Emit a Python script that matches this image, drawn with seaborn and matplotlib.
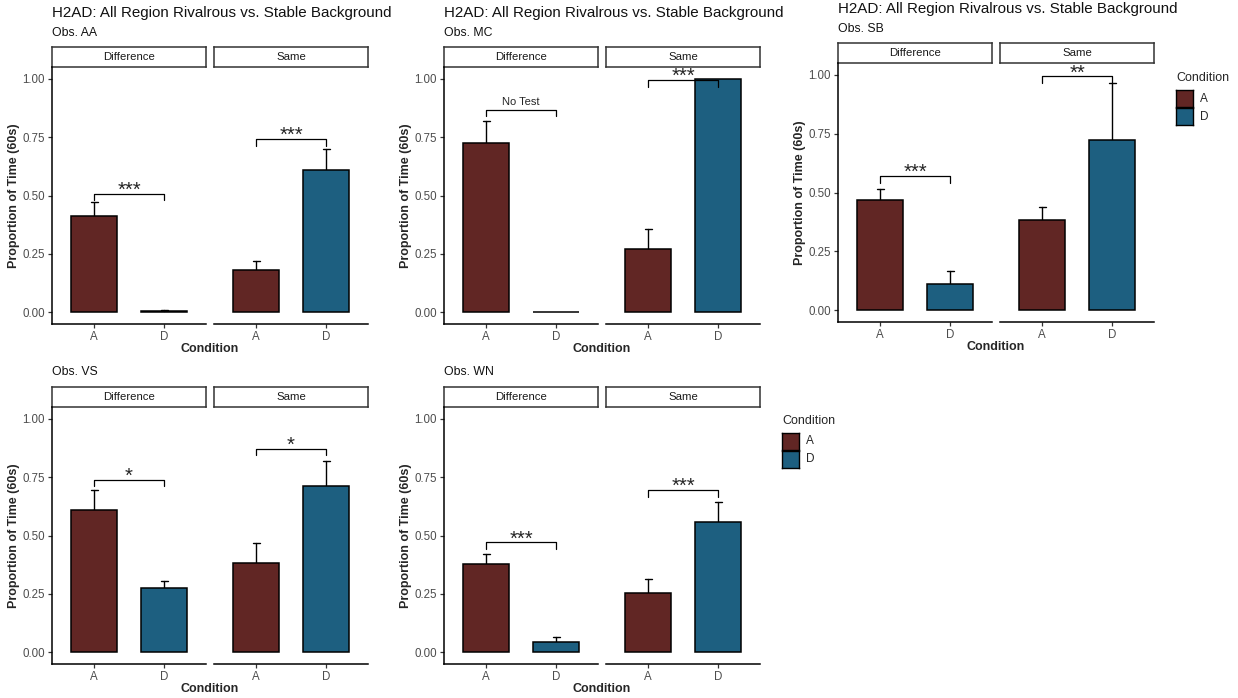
import numpy as np
import pandas as pd
import matplotlib
matplotlib.use("Agg")
import matplotlib.pyplot as plt
import seaborn as sns

# --- data ---
observers = ["AA", "MC", "SB", "VS", "WN"]
groups = ["Difference", "Same"]
conditions = ["A", "D"]

mean_diff_A = [0.412, 0.726, 0.467, 0.610, 0.380]
mean_diff_D = [0.005, 0.000, 0.112, 0.277, 0.046]
mean_same_A = [0.183, 0.270, 0.385, 0.383, 0.254]
mean_same_D = [0.609, 1.000, 0.722, 0.711, 0.557]

se_diff_A = [0.060, 0.091, 0.046, 0.084, 0.040]
se_diff_D = [0.006, 0.000, 0.055, 0.030, 0.021]
se_same_A = [0.037, 0.088, 0.055, 0.083, 0.060]
se_same_D = [0.091, 0.000, 0.242, 0.107, 0.086]

sig_diff = ["***", "No Test", "***", "*", "***"]
sig_same = ["***", "***", "**", "*", "***"]
sig_y_diff = [0.507, 0.868, 0.570, 0.739, 0.471]
sig_y_same = [0.742, 0.994, 0.993, 0.871, 0.694]

title = "H2AD: All Region Rivalrous vs. Stable Background"
palette = {"A": "#612624", "D": "#1d5f80"}

rows = []
for i, obs in enumerate(observers):
    for g, (mA, mD, sA, sD) in zip(groups, [(mean_diff_A, mean_diff_D, se_diff_A, se_diff_D),
                                             (mean_same_A, mean_same_D, se_same_A, se_same_D)]):
        rows.append((obs, g, "A", mA[i], sA[i]))
        rows.append((obs, g, "D", mD[i], sD[i]))
df = pd.DataFrame(rows, columns=["Observer", "Group", "Condition", "Proportion", "SE"])
sig = {("Difference", o): (sig_diff[i], sig_y_diff[i]) for i, o in enumerate(observers)}
sig.update({("Same", o): (sig_same[i], sig_y_same[i]) for i, o in enumerate(observers)})

sns.set_theme(style="white")
plt.rcParams["font.family"] = ["Liberation Sans", "DejaVu Sans"]

W, H = 1238, 698
fig = plt.figure(figsize=(W / 100, H / 100), dpi=100)


def rect(x0, y0, x1, y1):
    return [x0 / W, 1 - y1 / H, (x1 - x0) / W, (y1 - y0) / H]


def ftext(x, y, s, **kw):
    fig.text(x / W, 1 - y / H, s, **kw)


# panel layout in pixels: (observer, left x, top of strip, axis bottom, title y or None)
panels = [
    ("AA", 52, 47, 324, 13),
    ("MC", 444, 47, 324, 13),
    ("SB", 838, 43, 322, 9),
    ("VS", 52, 387, 664, None),
    ("WN", 444, 387, 664, None),
]
fw, gap, sh = 154, 8, 20

for obs, x0, st, yb, ty in panels:
    sub = df[df["Observer"] == obs]
    for j, g in enumerate(groups):
        xl = x0 + j * (fw + gap)
        # strip
        sax = fig.add_axes(rect(xl, st, xl + fw, st + sh))
        sax.set_xticks([]); sax.set_yticks([])
        for sp in sax.spines.values():
            sp.set_color("#333333"); sp.set_linewidth(1.1)
        sax.text(0.5, 0.5, g, ha="center", va="center", fontsize=8.2, color="#1a1a1a")

        ax = fig.add_axes(rect(xl, st + sh, xl + fw, yb))
        d = sub[sub["Group"] == g]
        # error bars (upper only) drawn under bars
        for k, c in enumerate(conditions):
            r = d[d["Condition"] == c].iloc[0]
            if r["SE"] > 0:
                ax.plot([k, k], [r["Proportion"], r["Proportion"] + r["SE"]], color="black", lw=1.0, zorder=1)
                ax.plot([k - 0.05, k + 0.05], [r["Proportion"] + r["SE"]] * 2, color="black", lw=1.0, zorder=1)
        sns.barplot(data=d, x="Condition", y="Proportion", hue="Condition", order=conditions,
                    hue_order=conditions, palette=palette, edgecolor="black", linewidth=1.1,
                    width=0.65, errorbar=None, legend=False, ax=ax, zorder=2, saturation=1)
        # significance bracket
        lab, yy = sig[(g, obs)]
        tip = 0.028
        ax.plot([0, 0, 1, 1], [yy - tip, yy, yy, yy - tip], color="black", lw=0.9, zorder=3)
        if lab == "No Test":
            ax.text(0.5, yy + 0.012, lab, ha="center", va="bottom", fontsize=8)
        else:
            ax.text(0.5, yy - 0.026, lab, ha="center", va="bottom", fontsize=14.5)

        ax.set_xlim(-0.6, 1.6)
        ax.set_ylim(-0.05, 1.05)
        ax.set_xlabel(""); ax.set_ylabel("")
        ax.set_facecolor("none")
        for s in ["top", "right"]:
            ax.spines[s].set_visible(False)
        ax.spines["bottom"].set_color("black"); ax.spines["bottom"].set_linewidth(1.1)
        ax.spines["left"].set_color("black"); ax.spines["left"].set_linewidth(1.1)
        ax.tick_params(axis="both", length=3, width=0.9, color="#333333",
                       labelcolor="#4d4d4d", labelsize=8.3, pad=2, bottom=True, left=True)
        ax.set_yticks([0, 0.25, 0.5, 0.75, 1.0])
        if j == 0:
            ax.set_yticklabels(["0.00", "0.25", "0.50", "0.75", "1.00"])
        else:
            ax.spines["left"].set_visible(False)
            ax.tick_params(axis="y", left=False, labelleft=False)

    xc = x0 + fw + gap / 2
    ftext(xc, yb + 25, "Condition", ha="center", va="center", fontsize=9, fontweight="bold")
    ftext(x0 - 38, (st + sh + yb) / 2, "Proportion of Time (60s)", rotation=90,
          ha="center", va="center", fontsize=9, fontweight="bold")
    if ty is not None:
        ftext(x0, ty, title, ha="left", va="center", fontsize=10.9, color="#111111")
    ftext(x0, st - 15 if ty is None else ty + 20, f"Obs. {obs}", ha="left", va="center",
          fontsize=8.8, color="#111111")

# legends
for lx, ly in [(1176, 78), (782, 421)]:
    ftext(lx, ly, "Condition", ha="left", va="center", fontsize=9)
    for k, c in enumerate(conditions):
        kx, ky = lx, ly + 12 + k * 18
        kax = fig.add_axes(rect(kx, ky, kx + 17, ky + 17))
        kax.set_xticks([]); kax.set_yticks([])
        kax.set_facecolor(palette[c])
        for sp in kax.spines.values():
            sp.set_color("black"); sp.set_linewidth(1.0)
        ftext(kx + 24, ky + 8.5, c, ha="left", va="center", fontsize=8.5)

fig.savefig("out.png", dpi=100, facecolor="white")
